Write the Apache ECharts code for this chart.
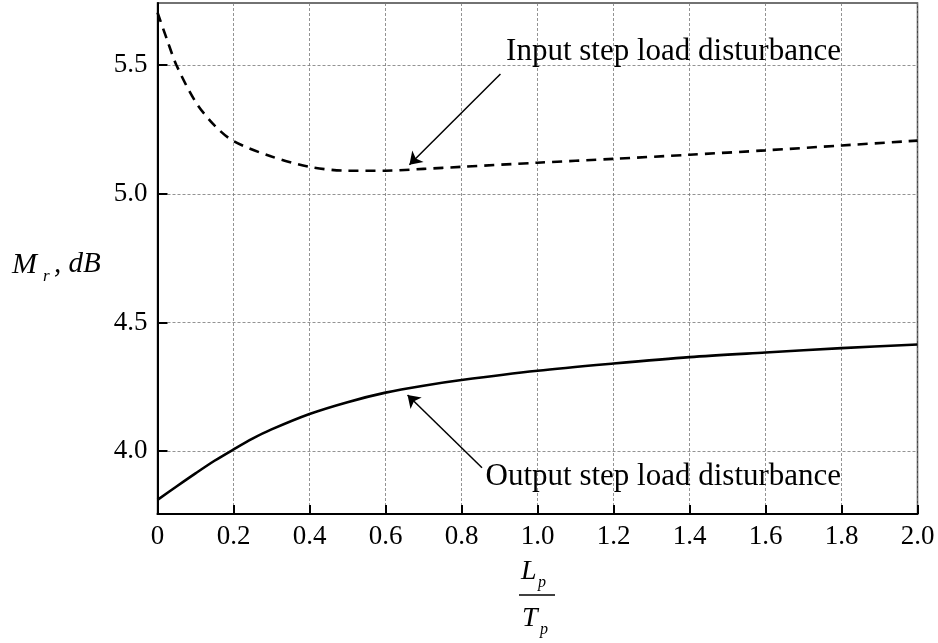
<!DOCTYPE html>
<html><head><meta charset="utf-8">
<script src="https://cdn.jsdelivr.net/npm/echarts@6/dist/echarts.min.js"></script>
<style>html,body{margin:0;padding:0;background:#fff}#c{width:938px;height:643px}</style>
</head><body><div id="c"></div>
<script>
// ---- data ----
const inputX = [0, 0.025, 0.05, 0.1, 0.15, 0.2, 0.3, 0.4, 0.5, 0.6, 0.7, 0.8, 1.0, 1.2, 1.4, 1.6, 1.8, 2.0];
const inputY = [5.705, 5.60, 5.50, 5.358, 5.266, 5.205, 5.145, 5.105, 5.090, 5.090, 5.097, 5.105, 5.121, 5.136, 5.152, 5.169, 5.188, 5.207];
const outputX = [0, 0.05, 0.1, 0.15, 0.2, 0.25, 0.3, 0.4, 0.5, 0.6, 0.7, 0.8, 1.0, 1.2, 1.4, 1.6, 1.8, 2.0];
const outputY = [3.81, 3.862, 3.913, 3.962, 4.006, 4.048, 4.084, 4.144, 4.19, 4.227, 4.254, 4.276, 4.312, 4.34, 4.365, 4.383, 4.40, 4.414];
const yTickValues = [4.0, 4.5, 5.0, 5.5];
const inputNote = 'Input step load disturbance';
const outputNote = 'Output step load disturbance';
const inputNotePos = [0.916, 5.552];
const outputNotePos = [0.862, 3.898];
const inputArrow = [[0.9025, 5.466], [0.663, 5.113]];
const outputArrow = [[0.854, 3.935], [0.658, 4.218]];

const FONT = '"Liberation Serif","Times New Roman",serif';
const chart = echarts.init(document.getElementById('c'), null, {renderer: 'canvas'});

function pairs(xs, ys) { return xs.map((x, i) => [x, ys[i]]); }

const arrowStyle = {
  silent: true, symbol: ['none', 'arrow'], symbolSize: 12,
  lineStyle: {color: '#000', width: 1.5, type: 'solid'}, label: {show: false}
};
const noteStyle = {
  silent: true, symbol: 'circle', symbolSize: 1, itemStyle: {color: 'rgba(0,0,0,0)'},
  label: {show: true, position: 'right', distance: 0, color: '#000', fontFamily: FONT, fontSize: 31}
};

const option = {
  animation: false,
  backgroundColor: '#fff',
  grid: {left: 157.5, right: 20.5, top: 3, bottom: 129, show: true, borderColor: '#444', borderWidth: 1.5, backgroundColor: 'transparent'},
  xAxis: {
    type: 'value', min: 0, max: 2, interval: 0.2,
    axisLine: {show: true, lineStyle: {color: '#000', width: 2}},
    axisTick: {show: true, inside: true, length: 9, lineStyle: {color: '#000', width: 2}},
    axisLabel: {color: '#000', fontFamily: FONT, fontSize: 27, margin: 9,
      formatter: v => (v === 0 ? '0' : v.toFixed(1))},
    splitLine: {show: true, lineStyle: {color: '#777', width: 0.8, type: [3, 2]}}
  },
  yAxis: {
    type: 'value', min: 3.755, max: 5.742,
    axisLine: {show: true, lineStyle: {color: '#000', width: 2}},
    axisTick: {show: true, inside: true, length: 10, customValues: yTickValues, lineStyle: {color: '#000', width: 2}},
    axisLabel: {color: '#000', fontFamily: FONT, fontSize: 27, margin: 10, customValues: yTickValues,
      formatter: v => v.toFixed(1)},
    splitLine: {show: true, lineStyle: {color: '#777', width: 0.8, type: [3, 2]}}
  },
  series: [
    {
      type: 'line', name: 'input', data: pairs(inputX, inputY), smooth: 0.3, showSymbol: false,
      lineStyle: {color: '#000', width: 2.6, type: [10, 7]},
      markLine: Object.assign({}, arrowStyle, {data: [[{coord: inputArrow[0]}, {coord: inputArrow[1]}]]}),
      markPoint: Object.assign({}, noteStyle, {data: [{coord: inputNotePos, label: {formatter: inputNote}}]})
    },
    {
      type: 'line', name: 'output', data: pairs(outputX, outputY), smooth: 0.3, showSymbol: false,
      lineStyle: {color: '#000', width: 2.6},
      markLine: Object.assign({}, arrowStyle, {data: [[{coord: outputArrow[0]}, {coord: outputArrow[1]}]]}),
      markPoint: Object.assign({}, noteStyle, {data: [{coord: outputNotePos, label: {formatter: outputNote}}]})
    }
  ],
  graphic: [
    // y-axis title  M_r, dB
    {type: 'text', left: 12, top: 250, style: {text: 'M', font: 'italic 30px ' + FONT, fill: '#000'}},
    {type: 'text', left: 43, top: 268, style: {text: 'r', font: 'italic 17px ' + FONT, fill: '#000'}},
    {type: 'text', left: 54, top: 250, style: {text: ', dB', font: 'italic 29px ' + FONT, fill: '#000'}},
    // x-axis title  L_p / T_p
    {type: 'text', left: 521, top: 558, style: {text: 'L', font: 'italic 28px ' + FONT, fill: '#000'}},
    {type: 'text', left: 538, top: 575, style: {text: 'p', font: 'italic 16px ' + FONT, fill: '#000'}},
    {type: 'line', shape: {x1: 519, y1: 595, x2: 555, y2: 595}, style: {stroke: '#000', lineWidth: 1.5}},
    {type: 'text', left: 522, top: 605, style: {text: 'T', font: 'italic 28px ' + FONT, fill: '#000'}},
    {type: 'text', left: 540, top: 622, style: {text: 'p', font: 'italic 16px ' + FONT, fill: '#000'}}
  ]
};
chart.setOption(option);
</script>
</body></html>
